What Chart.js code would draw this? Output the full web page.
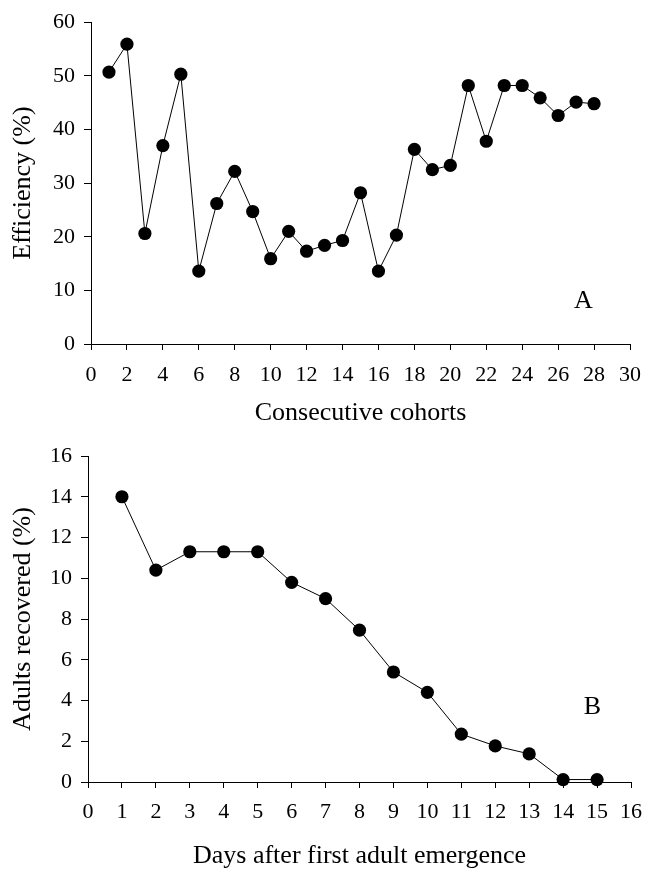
<!DOCTYPE html>
<html>
<head>
<meta charset="utf-8">
<script src="https://cdn.jsdelivr.net/npm/chart.js@4/dist/chart.umd.min.js"></script>
<style>
  html, body { margin: 0; padding: 0; background: #fff; }
  canvas { display: block; }
</style>
</head>
<body>
<canvas id="chartA" width="653" height="430"></canvas>
<canvas id="chartB" width="653" height="442"></canvas>
<script>
// panel A: efficiency per cohort
const cohorts = [1, 2, 3, 4, 5, 6, 7, 8, 9, 10, 11, 12, 13, 14, 15, 16, 17, 18, 19, 20, 21, 22, 23, 24, 25, 26, 27, 28];
const efficiency = [50.7, 55.9, 20.6, 37.0, 50.3, 13.6, 26.2, 32.2, 24.7, 15.9, 21.0, 17.3, 18.4, 19.3,
  28.2, 13.6, 20.3, 36.3, 32.5, 33.3, 48.2, 37.8, 48.2, 48.2, 45.9, 42.6, 45.1, 44.8];

// panel B: adults recovered per day
const days = [1, 2, 3, 4, 5, 6, 7, 8, 9, 10, 11, 12, 13, 14, 15];
const recovered = [14.0, 10.4, 11.3, 11.3, 11.3, 9.8, 9.0, 7.45, 5.4, 4.4, 2.35, 1.77, 1.38, 0.12, 0.12];

const serif = "'Liberation Serif', 'Times New Roman', serif";

// draws the panel letter at a data position
const panelLetter = {
  id: "panelLetter",
  afterDraw(chart, args, opts) {
    const { ctx, scales } = chart;
    ctx.save();
    ctx.font = "26px " + serif;
    ctx.fillStyle = "#000";
    ctx.textAlign = "center";
    ctx.textBaseline = "middle";
    ctx.fillText(opts.text, scales.x.getPixelForValue(opts.x), scales.y.getPixelForValue(opts.y));
    ctx.restore();
  }
};

function makeChart(id, cfg) {
  const xs = cfg.xs, ys = cfg.ys;
  return new Chart(document.getElementById(id), {
    type: "line",
    data: {
      datasets: [{
        data: xs.map((x, i) => ({ x: x, y: ys[i] })),
        borderColor: "#000",
        borderWidth: 1,
        backgroundColor: "#000",
        pointRadius: 6.6,
        pointHoverRadius: 6.6,
        pointBackgroundColor: "#000",
        pointBorderWidth: 0,
        tension: 0,
        clip: false
      }]
    },
    options: {
      responsive: false,
      animation: false,
      events: [],
      layout: { padding: cfg.padding },
      plugins: {
        legend: { display: false },
        tooltip: { enabled: false },
        panelLetter: cfg.letter
      },
      scales: {
        x: {
          type: "linear",
          min: cfg.xMin, max: cfg.xMax,
          afterFit: s => { s.height = cfg.xHeight; },
          border: { display: true, color: "#000", width: 1 },
          grid: { drawOnChartArea: false, drawTicks: true, tickLength: 6, color: "#000" },
          ticks: {
            stepSize: cfg.xStep, color: "#000", padding: cfg.xTickPad,
            maxRotation: 0, autoSkip: false,
            font: { family: serif, size: 22 }
          },
          title: {
            display: true, text: cfg.xTitle, color: "#000",
            padding: { top: 0, bottom: cfg.xTitlePad },
            font: { family: serif, size: 26 }
          }
        },
        y: {
          min: cfg.yMin, max: cfg.yMax,
          afterFit: s => { s.width = cfg.yWidth; },
          border: { display: true, color: "#000", width: 1 },
          grid: { drawOnChartArea: false, drawTicks: true, tickLength: 7, color: "#000" },
          ticks: {
            stepSize: cfg.yStep, color: "#000", padding: 9,
            font: { family: serif, size: 22 }
          },
          title: {
            display: true, text: cfg.yTitle, color: "#000",
            padding: { top: 8, bottom: 0 },
            font: { family: serif, size: 26 }
          }
        }
      }
    },
    plugins: [panelLetter]
  });
}

makeChart("chartA", {
  xs: cohorts, ys: efficiency,
  xMin: 0, xMax: 30, xStep: 2,
  yMin: 0, yMax: 60, yStep: 10,
  xTitle: "Consecutive cohorts", yTitle: "Efficiency (%)",
  padding: { top: 21, right: 13, left: 0, bottom: 0 },
  xHeight: 86, yWidth: 91, xTickPad: 12, xTitlePad: 1,
  letter: { text: "A", x: 27.4, y: 8 }
});

makeChart("chartB", {
  xs: days, ys: recovered,
  xMin: 0, xMax: 16, xStep: 1,
  yMin: 0, yMax: 16, yStep: 2,
  xTitle: "Days after first adult emergence", yTitle: "Adults recovered (%)",
  padding: { top: 26, right: 21, left: 0, bottom: 0 },
  xHeight: 90, yWidth: 88, xTickPad: 11, xTitlePad: 0,
  letter: { text: "B", x: 14.86, y: 3.68 }
});
</script>
</body>
</html>
